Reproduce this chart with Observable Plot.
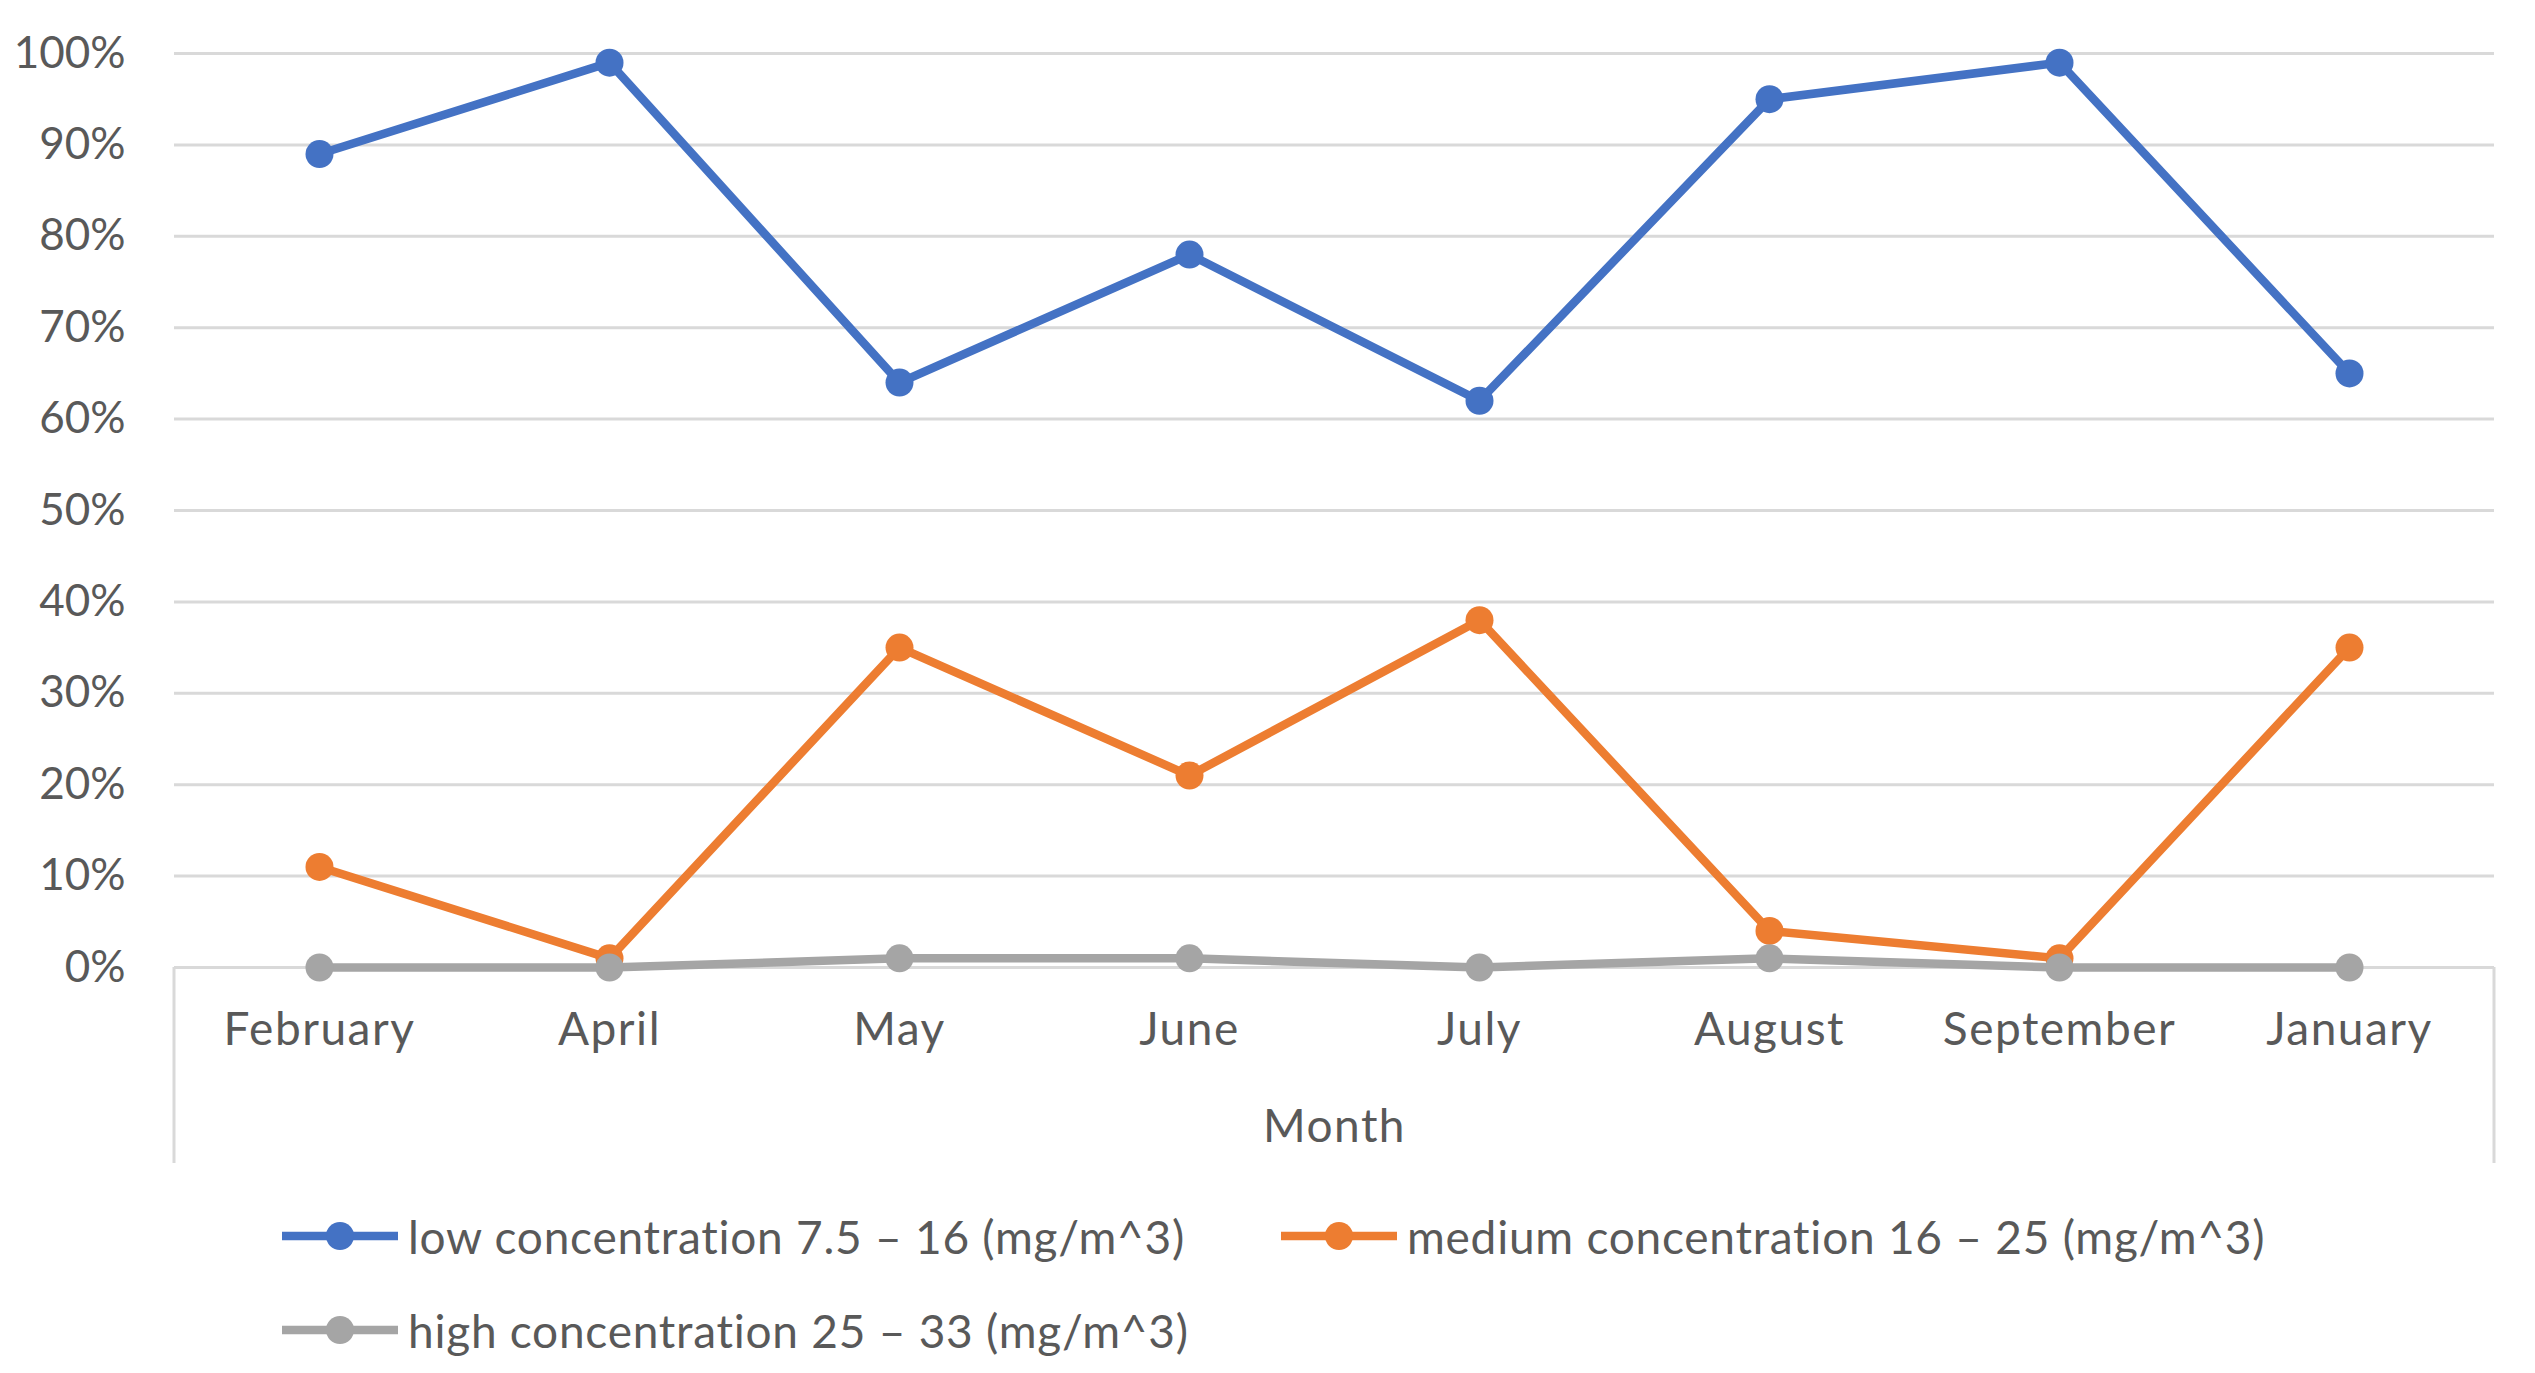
<!DOCTYPE html>
<html>
<head>
<meta charset="utf-8">
<script src="https://cdn.jsdelivr.net/npm/d3@7"></script>
<script src="https://cdn.jsdelivr.net/npm/@observablehq/plot@0.6"></script>
<style>
  html, body { margin: 0; padding: 0; background: #fff; }
  body { font-family: Lato, "Open Sans", sans-serif; color: #595959; width: 2535px; }
  #legend { padding-top: 14px; }
  .row { display: flex; align-items: center; height: 94px; padding-left: 282px; }
  .item { display: flex; align-items: center; font-size: 46px; letter-spacing: 0.75px; white-space: nowrap; }
  .item svg { margin-right: 10px; flex: none; }
  .item.first { width: 999px; }
</style>
</head>
<body>
<div id="chart"></div>
<div id="legend"></div>
<script>
const months = ["February", "April", "May", "June", "July", "August", "September", "January"];
const lowValues = [89, 99, 64, 78, 62, 95, 99, 65];
const mediumValues = [11, 1, 35, 21, 38, 4, 1, 35];
const highValues = [0, 0, 1, 1, 0, 1, 0, 0];
const seriesNames = [
  "low concentration 7.5 \u2013 16 (mg/m^3)",
  "medium concentration 16 \u2013 25 (mg/m^3)",
  "high concentration 25 \u2013 33 (mg/m^3)"
];
const seriesColors = ["#4472C4", "#ED7D31", "#A5A5A5"];
const yTicks = [0, 10, 20, 30, 40, 50, 60, 70, 80, 90, 100];
const xLabel = "Month";

const seriesValues = [lowValues, mediumValues, highValues];
const seriesRows = seriesValues.map((vals, si) =>
  vals.map((v, i) => ({ month: months[i], value: v, series: seriesNames[si] }))
);

const seriesMarks = seriesRows.flatMap((rows) => [
  Plot.line(rows, { x: "month", y: "value", stroke: "series", strokeWidth: 8.5 }),
  Plot.dot(rows, { x: "month", y: "value", fill: "series", r: 14 })
]);

const plot = Plot.plot({
  width: 2535,
  height: 1175,
  marginTop: 53,
  marginBottom: 208,
  marginLeft: 174,
  marginRight: 41,
  style: { fontFamily: "Lato, 'Open Sans', sans-serif", fontSize: "44px", color: "#595959", background: "white", overflow: "visible" },
  x: { type: "band", domain: months, padding: 0, tickSize: 0, tickPadding: 45, label: null },
  y: { domain: [0, 100], ticks: yTicks, tickSize: 0, tickPadding: 49, tickFormat: (d) => d + "%", label: null },
  color: { domain: seriesNames, range: seriesColors },
  marks: [
    Plot.ruleY(yTicks, { stroke: "#d9d9d9", strokeWidth: 3 }),
    ...seriesMarks,
    Plot.text([xLabel], { frameAnchor: "bottom", dy: 174, fill: "#595959", className: "xtitle" })
  ]
});

// wider category text (the reference font runs wider than its digits)
d3.select(plot).selectAll('[aria-label^="x-axis"] text, .xtitle text')
  .style("font-size", "46px").style("letter-spacing", "1.5px");

// category-axis box sides, positioned from the plot's own scales
const sx = plot.scale("x");
const sy = plot.scale("y");
const yBase = sy.apply(0);
const boxDepth = 196;
const g = d3.select(plot).append("g").attr("stroke", "#d9d9d9").attr("stroke-width", 3);
sx.range.forEach((xx) => {
  g.append("line").attr("x1", xx).attr("x2", xx).attr("y1", yBase).attr("y2", yBase + boxDepth);
});

document.getElementById("chart").appendChild(plot);

// legend
const legend = document.getElementById("legend");
const rowsLayout = [[0, 1], [2]];
rowsLayout.forEach((idxs) => {
  const row = document.createElement("div");
  row.className = "row";
  idxs.forEach((si, k) => {
    const item = document.createElement("div");
    item.className = "item" + (k === 0 && idxs.length > 1 ? " first" : "");
    const c = seriesColors[si];
    item.innerHTML =
      `<svg width="116" height="30" viewBox="0 0 116 30">` +
      `<line x1="0" x2="116" y1="15" y2="15" stroke="${c}" stroke-width="8.5"/>` +
      `<circle cx="58" cy="15" r="14" fill="${c}"/></svg>` +
      `<span>${seriesNames[si]}</span>`;
    row.appendChild(item);
  });
  legend.appendChild(row);
});
</script>
</body>
</html>
